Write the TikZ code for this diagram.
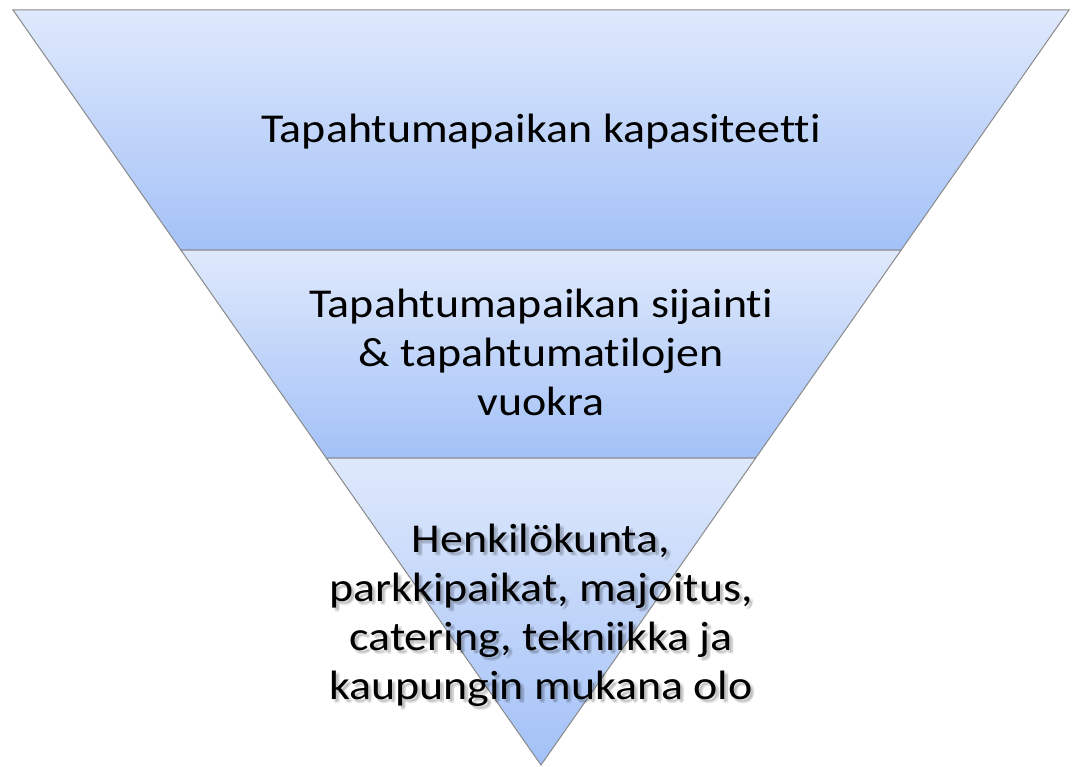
\documentclass[tikz,border=0pt]{standalone}
\usepackage{fontspec}
\setmainfont[Ligatures={NoCommon}, FakeStretch=1.12]{Carlito}
\usetikzlibrary{calc}
\definecolor{bandtop}{HTML}{DFE9FC}
\definecolor{bandbot}{HTML}{A3C1F7}
\definecolor{edgegray}{HTML}{8A8A8A}
\tikzset{
  band/.style={top color=bandtop, bottom color=bandbot, draw=edgegray, line width=1pt},
  lbl/.style={align=center, font=\fontsize{41}{49}\selectfont, text=black, inner sep=0pt},
  shadowlbl/.style={lbl, text=black, opacity=0.09}
}
\begin{document}
\begin{tikzpicture}[x=1pt,y=-1pt]
\useasboundingbox (0,0) rectangle (1073,767);
\coordinate (A) at (13,10);
\coordinate (B) at (1069,10);
\coordinate (P) at (541,765);
\coordinate (L1) at ($(A)!0.3179!(P)$);
\coordinate (R1) at ($(B)!0.3179!(P)$);
\coordinate (L2) at ($(A)!0.5934!(P)$);
\coordinate (R2) at ($(B)!0.5934!(P)$);
\shade[band] (A) -- (B) -- (R1) -- (L1) -- cycle;
\shade[band] (L1) -- (R1) -- (R2) -- (L2) -- cycle;
\shade[band] (L2) -- (R2) -- (P) -- cycle;
\node[lbl] (t1) at (541,131.5) {Tapahtumapaikan kapasiteetti};
\node[lbl] (t2) at (541,352.5) {Tapahtumapaikan sijainti\\\& tapahtumatilojen\\vuokra};
% soft shadow of the bottom text
\foreach \dx/\dy [count=\i] in {2/3,3.5/4,4/2.5}{
  \node[shadowlbl] (s3\i) at (541+\dx,615+\dy) {Henkilökunta,\\parkkipaikat, majoitus,\\catering, tekniikka ja\\kaupungin mukana olo};
}
\node[lbl] (t3) at (541,615) {Henkilökunta,\\parkkipaikat, majoitus,\\catering, tekniikka ja\\kaupungin mukana olo};
\end{tikzpicture}
\end{document}
